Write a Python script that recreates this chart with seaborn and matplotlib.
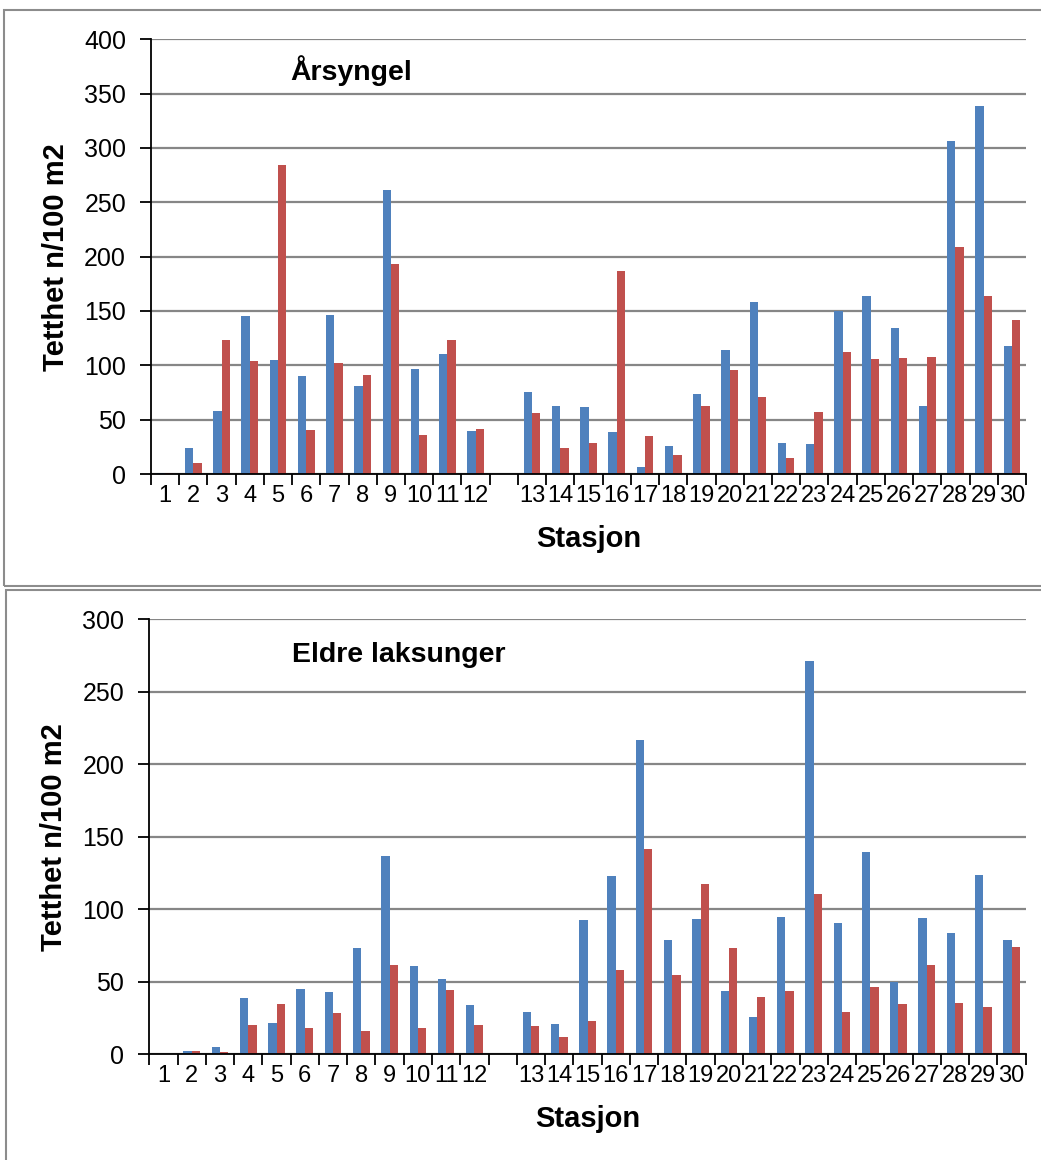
import numpy as np
import pandas as pd
import matplotlib
matplotlib.use("Agg")
import matplotlib.pyplot as plt
from matplotlib.patches import Rectangle
import seaborn as sns

stations = [str(i) for i in range(1, 31)]
gap_label = " "
order = stations[:12] + [gap_label] + stations[12:]

series_names = ["Serie 1", "Serie 2"]
colors = ["#4F81BD", "#C0504D"]

arsyngel_blue = [0.6, 23.6, 57.7, 145.4, 104.9, 90.2, 146.3, 81.0, 261.7, 96.3,
                 110.7, 39.6, 75.5, 62.3, 61.3, 38.3, 6.4, 25.8, 73.3, 114.1,
                 158.3, 28.5, 27.6, 150.3, 164.1, 134.4, 62.9, 306.1, 338.7, 117.8]
arsyngel_red = [0.6, 10.1, 123.3, 104.0, 284.4, 40.8, 101.8, 90.8, 193.0, 35.9,
                123.3, 41.4, 56.4, 24.2, 28.2, 186.8, 35.0, 17.8, 62.6, 95.7,
                70.6, 14.7, 57.4, 112.6, 106.1, 107.0, 107.7, 209.2, 164.1, 141.4]

eldre_blue = [0.0, 2.1, 4.8, 38.6, 21.4, 44.9, 43.0, 73.4, 136.6, 60.5,
              51.5, 33.8, 28.8, 20.5, 92.5, 122.8, 216.7, 78.7, 93.2, 43.5,
              25.5, 94.5, 271.2, 90.2, 139.2, 49.5, 93.6, 83.3, 123.3, 78.7]
eldre_red = [0.0, 2.1, 1.4, 20.0, 34.5, 18.2, 28.3, 15.6, 61.2, 18.2,
             44.2, 19.8, 19.3, 11.7, 22.8, 58.0, 141.5, 54.5, 117.3, 72.9,
             39.6, 43.2, 110.4, 29.2, 46.0, 34.7, 61.2, 35.0, 32.7, 73.8]

panels = [
    dict(title="Årsyngel", blue=arsyngel_blue, red=arsyngel_red, ymax=400,
         rect=[151/1041, 1 - 474/1160, 875/1041, 434.7/1160],
         title_pos=(0.159, 0.929)),
    dict(title="Eldre laksunger", blue=eldre_blue, red=eldre_red, ymax=300,
         rect=[149.3/1041, 1 - 1054/1160, 876.4/1041, 434.7/1160],
         title_pos=(0.1626, 0.918)),
]

sns.set_theme(style="white")
plt.rcParams["font.family"] = ["Liberation Sans", "DejaVu Sans"]
plt.rcParams["text.color"] = "black"
plt.rcParams["axes.labelcolor"] = "black"
plt.rcParams["xtick.color"] = "black"
plt.rcParams["ytick.color"] = "black"

W, H = 1041, 1160
fig = plt.figure(figsize=(W/100, H/100), dpi=100)

# panel frames
fig.add_artist(Rectangle((4/W, 1 - 585.7/H), 1.05, (585.7 - 10)/H,
                         transform=fig.transFigure, fill=False,
                         ec="#8C8C8C", lw=1.5))
fig.add_artist(Rectangle((6/W, -0.05), 1.05, 0.05 + (H - 590)/H,
                         transform=fig.transFigure, fill=False,
                         ec="#8C8C8C", lw=1.5))

for p in panels:
    ax = fig.add_axes(p["rect"])
    df = pd.DataFrame({
        "Stasjon": stations * 2,
        "serie": [series_names[0]] * 30 + [series_names[1]] * 30,
        "verdi": p["blue"] + p["red"],
    })
    sns.barplot(data=df, x="Stasjon", y="verdi", hue="serie", order=order,
                hue_order=series_names, palette=colors, width=0.59,
                saturation=1, legend=False, ax=ax, linewidth=0, errorbar=None)
    ax.set_xlim(-0.5, len(order) - 0.5)
    ax.set_ylim(0, p["ymax"])
    ax.set_yticks(np.arange(0, p["ymax"] + 1, 50))
    ax.yaxis.grid(True, color="#868686", lw=1.6)
    ax.xaxis.grid(False)
    ax.set_axisbelow(True)
    for s in ["top", "right"]:
        ax.spines[s].set_visible(False)
    for s in ["left", "bottom"]:
        ax.spines[s].set_color("black")
        ax.spines[s].set_linewidth(1.3)
        ax.spines[s].set_zorder(3)
    ax.set_xticks(np.arange(-0.5, len(order), 1), minor=True)
    ax.tick_params(axis="x", which="major", length=0, pad=8, labelcolor="black")
    ax.tick_params(axis="x", which="minor", length=8, width=1.3,
                   direction="out", color="black", bottom=True)
    ax.tick_params(axis="y", which="major", length=8, width=1.3,
                   direction="out", color="black", left=True, pad=10,
                   labelsize=18, labelcolor="black")
    for lab in ax.get_xticklabels():
        lab.set_fontsize(17)
        lab.set_family(["Liberation Sans Narrow", "Liberation Sans", "DejaVu Sans"])
    ax.set_xlabel("Stasjon", fontsize=21, fontweight="bold", labelpad=13,
                  color="black")
    ax.set_ylabel("Tetthet n/100 m2", fontsize=21, fontweight="bold",
                  color="black")
    ax.yaxis.set_label_coords(-0.093, 0.5)
    ax.text(p["title_pos"][0], p["title_pos"][1], p["title"],
            transform=ax.transAxes, fontsize=20.5, fontweight="bold",
            ha="left", va="center", color="black")

fig.savefig("out.png", dpi=100)
